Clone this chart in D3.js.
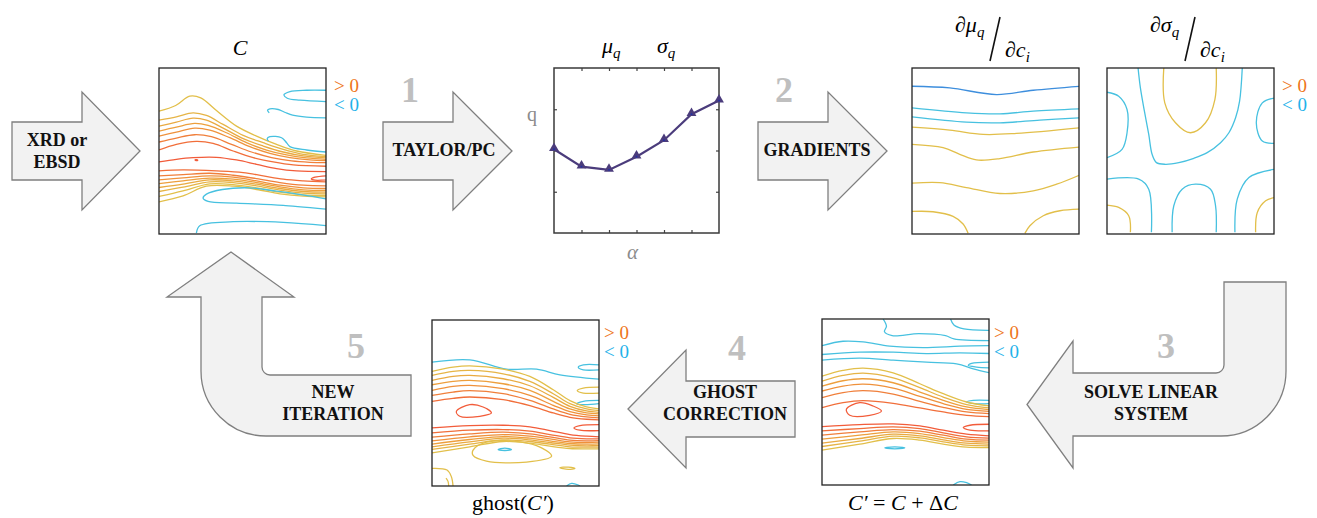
<!DOCTYPE html>
<html>
<head>
<meta charset="utf-8">
<script src="https://cdn.jsdelivr.net/npm/d3@7"></script>
<style>
  body { margin: 0; background: #fff; }
  svg text { font-family: "Liberation Serif", "Times New Roman", serif; }
</style>
</head>
<body>
<svg id="fig" width="1317" height="518"></svg>
<script>
// ---------------- data ----------------
// Moment curve: q versus alpha
const alphaSteps = [0, 1, 2, 3, 4, 5, 6];
const qValues = [2.03, 1.61, 1.53, 1.85, 2.25, 2.88, 3.21];
const alphaTicks = [1, 2, 3, 4, 5];
const qTicks = [1, 2, 3];

// Contour lines on a 500 x 500 grid (column, row); level > 0 warm, level < 0 cool
// Entry: [level, points, closed]
const contoursC = [
  [1, [[0,130],[50,113],[92,85],[125,90],[172,128],[232,175],[292,205],[352,230],[412,250],[500,263]]],
  [2, [[0,157],[52,147],[102,135],[142,143],[192,170],[252,203],[312,225],[372,245],[432,260],[500,267]]],
  [3, [[0,175],[52,163],[102,151],[142,157],[192,181],[252,213],[312,235],[372,253],[432,265],[500,271]]],
  [4, [[0,190],[52,178],[107,167],[147,173],[202,195],[262,225],[322,247],[382,262],[442,271],[500,275]]],
  [5, [[0,205],[52,193],[107,181],[152,187],[212,210],[272,237],[332,257],[392,270],[452,277],[500,279]]],
  [6, [[0,223],[52,211],[107,201],[157,207],[217,230],[277,253],[337,270],[397,280],[452,284],[500,285]]],
  [7, [[0,247],[52,230],[112,221],[162,227],[222,250],[282,270],[342,283],[402,292],[500,296]]],
  [8, [[0,283],[52,275],[102,270],[172,269],[232,277],[292,290],[352,303],[412,310],[500,312]]],
  [8, [[108,277],[113,276],[116,278],[111,279]], true],
  [8, [[500,325],[467,329],[456,334],[467,338],[500,337]]],
  [7, [[0,310],[72,307],[172,310],[252,315],[312,325],[372,335],[432,340],[500,343]]],
  [6, [[0,325],[72,321],[152,317],[222,323],[292,333],[362,345],[432,353],[500,355]]],
  [5, [[0,337],[72,331],[152,325],[222,329],[292,340],[362,353],[432,361],[500,363]]],
  [4, [[0,348],[72,340],[152,332],[222,335],[292,345],[362,358],[432,367],[500,369]]],
  [3, [[0,360],[72,350],[152,337],[222,340],[292,350],[362,363],[432,372],[500,374]]],
  [2, [[0,372],[72,359],[152,343],[222,345],[292,355],[362,368],[432,377],[500,379]]],
  [1, [[0,387],[72,370],[152,349],[222,351],[292,361],[362,374],[432,382],[500,384]]],
  [1, [[0,403],[72,385],[142,356],[222,356],[292,366],[362,379],[432,386],[500,388]]],
  [-1, [[500,67],[442,67],[392,71],[374,81],[384,91],[422,97],[500,101]]],
  [-1, [[500,150],[442,148],[400,142],[378,134],[357,125],[332,123],[325,127],[330,135]]],
  [-1, [[500,253],[442,247],[392,237],[382,225],[367,210],[332,207],[324,213],[328,220]]],
  [-1, [[500,394],[430,382],[352,371],[272,361],[190,366],[142,380],[132,392],[147,402],[232,407],[372,414],[500,425]]],
  [-1, [[112,497],[122,475],[222,463],[372,465],[500,475]]]
];

const contoursGradMu = [
  [-2, [[0,55],[113,60],[253,80],[363,67],[501,55]]],
  [-1, [[0,120],[163,135],[263,138],[363,130],[501,123]]],
  [-1, [[0,147],[163,163],[263,165],[383,157],[501,150]]],
  [1, [[0,178],[113,187],[213,200],[313,197],[501,180]]],
  [1, [[0,230],[93,240],[143,260],[193,277],[263,273],[363,253],[501,238]]],
  [1, [[0,347],[83,345],[163,360],[263,378],[363,370],[433,350],[501,323]]],
  [1, [[0,432],[63,433],[123,447],[153,470],[168,498]]],
  [1, [[338,498],[353,475],[393,445],[443,430],[501,425]]]
];

const contoursGradSigma = [
  [-1, [[0,73],[35,85],[60,125],[60,195],[45,245],[0,270]]],
  [-1, [[93,0],[100,60],[112,130],[125,200],[135,260],[148,285],[175,290],[215,285],[260,272],[300,255],[340,225],[365,195],[385,150],[397,100],[405,0]]],
  [1, [[170,0],[173,105],[205,165],[250,195],[295,165],[323,95],[327,0]]],
  [-1, [[503,90],[465,105],[447,165],[465,220],[503,227]]],
  [-1, [[0,335],[95,335],[125,365],[133,495]]],
  [-1, [[195,495],[200,415],[225,365],[265,350],[310,365],[325,415],[327,495]]],
  [-1, [[383,495],[390,395],[425,330],[503,305]]],
  [1, [[0,413],[35,420],[65,445],[70,495]]],
  [1, [[445,495],[450,435],[475,400],[503,390]]]
];

const contoursGhost = [
  [-1, [[0,127],[113,120],[223,148],[313,148],[383,165],[501,178]]],
  [-1, [[501,135],[453,135],[438,142],[453,150],[501,150]]],
  [-1, [[501,242],[453,245],[433,253],[458,255],[501,252]]],
  [-1, [[198,390],[218,386],[238,390],[218,393]], true],
  [-1, [[403,500],[418,492],[438,497],[443,500]]],
  [1, [[501,202],[453,205],[435,212],[453,220],[501,220]]],
  [1, [[0,155],[63,142],[113,138],[213,148],[293,170],[363,210],[413,243],[463,262],[501,268]]],
  [2, [[0,167],[63,155],[113,152],[213,162],[293,185],[363,222],[413,252],[463,268],[501,273]]],
  [3, [[0,182],[63,170],[113,167],[213,177],[293,198],[363,233],[413,260],[463,274],[501,278]]],
  [4, [[0,195],[63,185],[113,182],[213,192],[293,212],[363,245],[413,268],[463,280],[501,283]]],
  [5, [[0,212],[63,200],[113,197],[213,207],[293,227],[363,257],[413,276],[463,286],[501,289]]],
  [6, [[0,227],[63,217],[113,213],[213,222],[293,242],[363,268],[413,284],[463,292],[501,295]]],
  [7, [[0,245],[63,236],[113,232],[213,240],[293,258],[363,280],[413,293],[463,299],[501,301]]],
  [8, [[73,275],[113,255],[153,262],[178,280],[143,290],[83,290]], true],
  [8, [[501,315],[443,318],[425,325],[443,332],[501,333]]],
  [8, [[0,325],[113,318],[213,317],[293,322],[353,333],[413,345],[463,350],[501,352]]],
  [7, [[0,340],[113,332],[213,330],[293,335],[353,345],[413,355],[463,358],[501,358]]],
  [6, [[0,353],[113,343],[213,338],[293,343],[353,352],[413,362],[463,364],[501,363]]],
  [5, [[0,364],[113,352],[213,345],[293,350],[353,358],[413,367],[463,369],[501,368]]],
  [4, [[0,374],[113,360],[213,351],[293,356],[353,364],[413,372],[463,374],[501,373]]],
  [3, [[0,382],[113,367],[213,356],[293,361],[353,369],[413,377],[463,379],[501,378]]],
  [2, [[0,390],[113,374],[213,361],[293,366],[353,374],[413,382],[463,383],[501,383]]],
  [1, [[0,400],[113,382],[213,366],[293,371],[353,380],[413,387],[463,388],[501,388]]],
  [1, [[123,392],[163,368],[263,367],[328,385],[358,410],[283,428],[163,425],[123,408]], true],
  [1, [[383,445],[408,443],[428,447],[408,450]], true],
  [1, [[0,447],[45,452],[58,472],[63,500]]],
  [1, [[42,476],[48,486],[50,500]]]
];

const contoursUpdated = [
  [-1, [[183,0],[193,22],[187,38],[210,50],[290,44],[370,50],[395,60],[501,65]]],
  [-1, [[385,0],[395,18],[425,30],[501,34]]],
  [-1, [[0,80],[63,67],[123,69],[203,82],[303,86],[413,82],[501,80]]],
  [-1, [[0,107],[113,100],[213,100],[313,104],[413,102],[501,104]]],
  [-1, [[0,124],[113,118],[213,124],[313,130],[403,135],[453,150],[501,162]]],
  [-1, [[501,130],[448,134],[438,140],[463,145],[501,147]]],
  [-1, [[501,245],[453,245],[433,250],[458,255],[501,255]]],
  [-1, [[188,388],[218,385],[248,388],[218,391]], true],
  [-1, [[393,500],[413,490],[433,493],[448,500]]],
  [1, [[0,172],[63,155],[123,148],[213,162],[293,195],[363,225],[433,250],[501,262]]],
  [2, [[0,187],[63,170],[123,163],[213,177],[293,207],[363,235],[433,258],[501,268]]],
  [4, [[0,202],[63,186],[123,180],[213,192],[293,220],[363,245],[433,265],[501,273]]],
  [5, [[0,217],[63,202],[123,196],[213,208],[293,233],[363,255],[433,272],[501,278]]],
  [6, [[0,237],[63,222],[123,216],[213,226],[293,248],[363,266],[433,280],[501,285]]],
  [7, [[0,267],[63,252],[123,246],[213,254],[293,268],[363,280],[433,290],[501,294]]],
  [8, [[73,272],[113,252],[153,262],[178,277],[143,290],[83,290]], true],
  [8, [[501,317],[443,320],[423,327],[443,335],[501,337]]],
  [8, [[0,324],[113,318],[213,316],[293,322],[363,335],[433,347],[501,352]]],
  [7, [[0,337],[113,330],[213,325],[293,330],[363,343],[433,355],[501,359]]],
  [6, [[0,350],[113,340],[213,333],[293,338],[363,350],[433,362],[501,365]]],
  [4, [[0,362],[113,350],[213,340],[293,345],[363,357],[433,368],[501,371]]],
  [3, [[0,374],[113,360],[213,347],[293,352],[363,364],[433,374],[501,377]]],
  [2, [[0,384],[113,368],[213,353],[293,358],[363,370],[433,380],[501,382]]],
  [1, [[0,395],[113,377],[213,360],[293,365],[363,377],[433,386],[501,387]]]
];

// ---------------- drawing ----------------
const SERIF = "Liberation Serif, Times New Roman, serif";
const svg = d3.select("#fig");
const txt = (x, y) => svg.append("text").attr("x", x).attr("y", y).attr("font-family", SERIF);

const warm = d3.scaleLinear().domain([1, 4.5, 8])
  .range(["#E2BF4A", "#EF9A3B", "#F25C3A"]);
const cool = d3.scaleOrdinal().domain([-1, -2]).range(["#47C1E0", "#3D8EDD"]);
const levelColor = lv => lv > 0 ? warm(lv) : cool(lv);

let clipId = 0;
function contourPanel(x0, y0, w, h, lines) {
  const xs = d3.scaleLinear().domain([0, 500]).range([x0, x0 + w]);
  const ys = d3.scaleLinear().domain([0, 500]).range([y0, y0 + h]);
  const id = "clip" + (clipId++);
  svg.append("clipPath").attr("id", id)
    .append("rect").attr("x", x0).attr("y", y0).attr("width", w).attr("height", h);
  const g = svg.append("g").attr("clip-path", `url(#${id})`);
  const open = d3.line().x(d => xs(d[0])).y(d => ys(d[1])).curve(d3.curveCatmullRom.alpha(0.5));
  const closed = d3.line().x(d => xs(d[0])).y(d => ys(d[1])).curve(d3.curveCatmullRomClosed.alpha(0.5));
  g.selectAll("path").data(lines).join("path")
    .attr("d", d => (d[2] ? closed : open)(d[1]))
    .attr("fill", "none")
    .attr("stroke", d => levelColor(d[0]))
    .attr("stroke-width", 1.3)
    .attr("stroke-linejoin", "round");
  svg.append("rect").attr("x", x0).attr("y", y0).attr("width", w).attr("height", h)
    .attr("fill", "none").attr("stroke", "#222").attr("stroke-width", 1.3);
}

function signLegend(x, y) {
  txt(x, y).attr("font-size", 19).attr("fill", "#EE7420").text("> 0");
  txt(x, y + 19).attr("font-size", 19).attr("fill", "#1FB2EA").text("< 0");
}

// Block arrows
const arrowStyle = sel => sel.attr("fill", "#F2F2F2").attr("stroke", "#7F7F7F")
  .attr("stroke-width", 1.3).attr("stroke-linejoin", "miter");

function rightArrow(x, cy, bodyLen, headLen, bodyH, headH) {
  const p = d3.path();
  p.moveTo(x, cy - bodyH / 2);
  p.lineTo(x + bodyLen, cy - bodyH / 2);
  p.lineTo(x + bodyLen, cy - headH / 2);
  p.lineTo(x + bodyLen + headLen, cy);
  p.lineTo(x + bodyLen, cy + headH / 2);
  p.lineTo(x + bodyLen, cy + bodyH / 2);
  p.lineTo(x, cy + bodyH / 2);
  p.closePath();
  svg.append("path").attr("d", p.toString()).call(arrowStyle);
}
function leftArrow(tipX, cy, headLen, bodyRight, bodyH, headH) {
  const p = d3.path();
  p.moveTo(tipX, cy);
  p.lineTo(tipX + headLen, cy - headH / 2);
  p.lineTo(tipX + headLen, cy - bodyH / 2);
  p.lineTo(bodyRight, cy - bodyH / 2);
  p.lineTo(bodyRight, cy + bodyH / 2);
  p.lineTo(tipX + headLen, cy + bodyH / 2);
  p.lineTo(tipX + headLen, cy + headH / 2);
  p.closePath();
  svg.append("path").attr("d", p.toString()).call(arrowStyle);
}

function label(x, y, lines, size) {
  const t = txt(x, y).attr("text-anchor", "middle").attr("font-size", size || 18)
    .attr("font-weight", "bold").attr("fill", "#111");
  lines.forEach((s, i) => t.append("tspan").attr("x", x).attr("dy", i ? 22 : 0).text(s));
}
function stepNumber(x, y, n) {
  txt(x, y).attr("text-anchor", "middle")
    .attr("font-size", 36).attr("font-weight", "bold").attr("fill", "#BFBFBF").text(n);
}

rightArrow(12, 151, 70, 58, 58, 118);
label(57, 146, ["XRD or", "EBSD"]);

rightArrow(383, 151, 70, 59, 58, 118);
label(444, 156, ["TAYLOR/PC"]);
stepNumber(410, 102, "1");

rightArrow(758, 151, 70, 59, 58, 118);
label(817, 156, ["GRADIENTS"]);
stepNumber(784, 102, "2");

// Step 3: down then left
{
  const p = d3.path();
  p.moveTo(1224, 282);
  p.lineTo(1286, 282);
  p.lineTo(1286, 371);
  p.arcTo(1286, 436, 1221, 436, 65);
  p.lineTo(1073, 436);
  p.lineTo(1073, 468);
  p.lineTo(1027, 404.5);
  p.lineTo(1073, 341);
  p.lineTo(1073, 373);
  p.lineTo(1216, 373);
  p.arcTo(1224, 373, 1224, 365, 8);
  p.closePath();
  svg.append("path").attr("d", p.toString()).call(arrowStyle);
}
label(1151, 398, ["SOLVE LINEAR", "SYSTEM"]);
stepNumber(1166, 358, "3");

leftArrow(628, 409, 58, 795, 56, 118);
label(725, 398, ["GHOST", "CORRECTION"]);
stepNumber(737, 360, "4");

// Step 5: left then up
{
  const p = d3.path();
  p.moveTo(231, 252);
  p.lineTo(294, 297);
  p.lineTo(262, 297);
  p.lineTo(262, 367);
  p.arcTo(262, 375, 270, 375, 8);
  p.lineTo(411, 375);
  p.lineTo(411, 436);
  p.lineTo(266, 436);
  p.arcTo(201, 436, 201, 371, 65);
  p.lineTo(201, 297);
  p.lineTo(167, 297);
  p.closePath();
  svg.append("path").attr("d", p.toString()).call(arrowStyle);
}
label(333, 398, ["NEW", "ITERATION"]);
stepNumber(356, 358, "5");

// ---- panel C ----
contourPanel(159, 68, 167, 166, contoursC);
txt(240, 55).attr("text-anchor", "middle").attr("font-size", 22)
  .attr("font-style", "italic").text("C");
signLegend(334, 92);

// ---- moment curve ----
{
  const x0 = 554, y0 = 68, w = 165, h = 165;
  const xs = d3.scaleLinear().domain([0, 6]).range([x0, x0 + w]);
  const ys = d3.scaleLinear().domain([0, 4]).range([y0 + h, y0]);
  const tickStyle = g => {
    g.select(".domain").remove();
    g.selectAll(".tick line").attr("stroke", "#444").attr("stroke-width", 1.2);
    g.selectAll(".tick text").remove();
  };
  svg.append("g").attr("transform", `translate(0,${y0 + h})`)
    .call(d3.axisBottom(xs).tickValues(alphaTicks).tickSize(-3).tickFormat("")).call(tickStyle);
  svg.append("g").attr("transform", `translate(0,${y0})`)
    .call(d3.axisTop(xs).tickValues(alphaTicks).tickSize(-3).tickFormat("")).call(tickStyle);
  svg.append("g").attr("transform", `translate(${x0},0)`)
    .call(d3.axisLeft(ys).tickValues(qTicks).tickSize(-3).tickFormat("")).call(tickStyle);
  svg.append("g").attr("transform", `translate(${x0 + w},0)`)
    .call(d3.axisRight(ys).tickValues(qTicks).tickSize(-3).tickFormat("")).call(tickStyle);
  svg.append("rect").attr("x", x0).attr("y", y0).attr("width", w).attr("height", h)
    .attr("fill", "none").attr("stroke", "#3a3a3a").attr("stroke-width", 1.5);

  const pts = alphaSteps.map((a, i) => [a, qValues[i]]);
  svg.append("path").datum(pts)
    .attr("d", d3.line().x(d => xs(d[0])).y(d => ys(d[1])))
    .attr("fill", "none").attr("stroke", "#4B3C7C").attr("stroke-width", 2.2);
  svg.selectAll(".mk").data(pts).join("path").attr("class", "mk")
    .attr("transform", d => `translate(${xs(d[0])},${ys(d[1]) - 1})`)
    .attr("d", d3.symbol(d3.symbolTriangle, 42))
    .attr("fill", "#4B3C7C");
  svg.selectAll(".mkc").data(pts).join("circle").attr("class", "mkc")
    .attr("cx", d => xs(d[0])).attr("cy", d => ys(d[1]))
    .attr("r", 0.9).attr("fill", "#1E2FA8");

  const mu = txt(602, 53).attr("font-size", 22).attr("font-style", "italic");
  mu.append("tspan").text("μ");
  mu.append("tspan").attr("dy", 5).attr("font-size", 15).text("q");
  const sg = txt(657, 53).attr("font-size", 22).attr("font-style", "italic");
  sg.append("tspan").text("σ");
  sg.append("tspan").attr("dy", 5).attr("font-size", 15).text("q");
  txt(527, 121).attr("font-size", 20).attr("fill", "#8C8C8C").text("q");
  txt(627, 259).attr("font-size", 21).attr("font-style", "italic")
    .attr("fill", "#8C8C8C").text("α");
}

// ---- gradient panels ----
function derivLabel(x, sym) {
  const top = txt(x, 32).attr("font-size", 22).attr("font-style", "italic");
  top.append("tspan").text("∂" + sym);
  top.append("tspan").attr("dy", 5).attr("font-size", 15).text("q");
  svg.append("line").attr("x1", x + 45).attr("y1", 17).attr("x2", x + 35).attr("y2", 61)
    .attr("stroke", "#111").attr("stroke-width", 1.6);
  const bot = txt(x + 50, 57).attr("font-size", 22).attr("font-style", "italic");
  bot.append("tspan").text("∂c");
  bot.append("tspan").attr("dy", 5).attr("font-size", 15).text("i");
}
contourPanel(912, 68, 167, 166, contoursGradMu);
derivLabel(955, "μ");
contourPanel(1107, 68, 167, 166, contoursGradSigma);
derivLabel(1150, "σ");
signLegend(1282, 92);

// ---- ghost-corrected panel ----
contourPanel(432, 320, 167, 166, contoursGhost);
signLegend(604, 339);
{
  const t = txt(513, 510).attr("text-anchor", "middle").attr("font-size", 22);
  t.append("tspan").text("ghost(");
  t.append("tspan").attr("font-style", "italic").text("C′");
  t.append("tspan").text(")");
}

// ---- updated panel ----
contourPanel(822, 319, 167, 166, contoursUpdated);
signLegend(994, 339);
{
  const t = txt(903, 510).attr("text-anchor", "middle").attr("font-size", 22);
  t.append("tspan").attr("font-style", "italic").text("C′");
  t.append("tspan").text(" = ");
  t.append("tspan").attr("font-style", "italic").text("C");
  t.append("tspan").text(" + Δ");
  t.append("tspan").attr("font-style", "italic").text("C");
}
</script>
</body>
</html>
